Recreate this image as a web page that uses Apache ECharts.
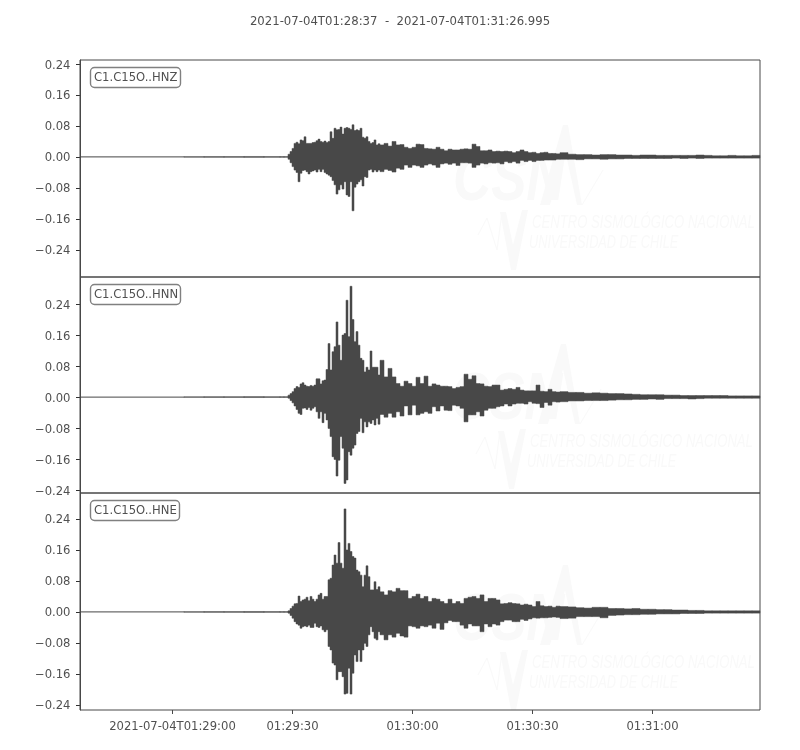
<!DOCTYPE html>
<html><head><meta charset="utf-8">
<style>html,body{margin:0;padding:0;background:#fff}#c{width:800px;height:750px}</style>
<script src="https://cdn.jsdelivr.net/npm/echarts@6/dist/echarts.min.js"></script>
</head><body><div id="c"></div>
<script>
const titleText = '2021-07-04T01:28:37  -  2021-07-04T01:31:26.995';
const channels = ['C1.C15O..HNZ','C1.C15O..HNN','C1.C15O..HNE'];
const xTickSeconds = [23,53,83,113,143];
const xTickLabels = ['2021-07-04T01:29:00','01:29:30','01:30:00','01:30:30','01:31:00'];
const yTicks = [-0.24,-0.16,-0.08,0,0.08,0.16,0.24];
const yRanges = [[-0.31,0.2503],[-0.2477,0.31],[-0.253,0.307]];

const times = [0,26,31,36,41,46,50,51,
52,52.5,53,53.5,54,54.5,55,55.5,56,56.5,57,57.5,58,58.5,59,59.5,60,60.5,61,61.5,62,62.5,63,63.5,64,64.5,65,65.5,66,66.5,67,67.5,68,68.5,69,69.5,70,70.5,71,71.5,72,72.5,73,73.5,74,74.5,
75,76,77,78,79,80,81,82,83,84,85,86,87,88,89,90,91,92,93,94,95,96,97,98,99,100,101,102,103,104,105,106,107,108,109,110,111,112,113,114,115,116,117,118,119,120,
122,124,126,128,130,132,134,136,138,140,142,144,146,148,150,152,154,156,158,160,162,164,166,168,170];

const hiZ = [.0004,.0008,.001,.001,.0012,.001,.001,.001,
.007,.014,.022,.035,.038,.034,.044,.042,.052,.035,.035,.035,.037,.038,.042,.046,.040,.038,.041,.037,.040,.065,.048,.074,.070,.071,.077,.059,.074,.076,.074,.071,.083,.068,.070,.068,.074,.051,.048,.052,.040,.035,.037,.044,.031,.034,
.031,.035,.028,.040,.031,.032,.025,.022,.025,.033,.032,.022,.021,.020,.025,.020,.016,.020,.018,.018,.020,.021,.020,.033,.027,.016,.016,.018,.014,.015,.014,.015,.014,.011,.014,.018,.014,.011,.012,.009,.011,.012,.009,.009,.008,.011,
.007,.006,.006,.005,.006,.006,.005,.005,.004,.005,.005,.004,.004,.004,.004,.004,.005,.004,.003,.003,.004,.003,.003,.004,.003];
const loZ = [-.0004,-.0008,-.001,-.001,-.0012,-.001,-.001,-.001,
-.006,-.015,-.025,-.034,-.040,-.064,-.042,-.035,-.034,-.038,-.044,-.038,-.036,-.034,-.039,-.032,-.038,-.032,-.040,-.044,-.047,-.051,-.061,-.072,-.096,-.085,-.072,-.083,-.064,-.098,-.102,-.064,-.139,-.078,-.070,-.064,-.059,-.075,-.051,-.053,-.034,-.032,-.039,-.034,-.038,-.034,
-.038,-.032,-.035,-.039,-.029,-.032,-.021,-.027,-.021,-.023,-.027,-.021,-.018,-.021,-.027,-.018,-.016,-.019,-.016,-.022,-.015,-.015,-.016,-.027,-.021,-.016,-.018,-.015,-.016,-.015,-.018,-.012,-.015,-.012,-.016,-.009,-.012,-.009,-.012,-.009,-.009,-.008,-.008,-.008,-.006,-.006,
-.006,-.007,-.005,-.005,-.006,-.005,-.005,-.004,-.004,-.004,-.004,-.004,-.004,-.003,-.004,-.003,-.004,-.003,-.003,-.003,-.003,-.003,-.003,-.003,-.003];

const hiN = [.0004,.0008,.001,.001,.0012,.001,.001,.001,
.005,.009,.014,.022,.027,.025,.034,.037,.031,.028,.027,.030,.028,.031,.047,.047,.034,.042,.044,.071,.138,.070,.117,.130,.194,.134,.095,.160,.164,.250,.156,.286,.200,.143,.169,.134,.100,.095,.065,.077,.070,.119,.077,.077,.077,.057,
.095,.052,.074,.052,.035,.028,.041,.035,.028,.051,.035,.054,.028,.034,.031,.028,.028,.027,.022,.025,.027,.059,.046,.055,.035,.034,.028,.027,.031,.031,.018,.020,.022,.020,.025,.018,.016,.016,.016,.031,.015,.014,.020,.014,.013,.014,
.012,.012,.010,.011,.010,.009,.009,.008,.007,.006,.006,.006,.005,.005,.004,.004,.004,.004,.004,.004,.003,.003,.003,.003,.003];
const loN = [-.0004,-.0008,-.001,-.001,-.0012,-.001,-.001,-.001,
-.003,-.009,-.015,-.023,-.032,-.042,-.045,-.029,-.028,-.032,-.027,-.034,-.029,-.025,-.038,-.055,-.038,-.066,-.042,-.059,-.081,-.102,-.154,-.161,-.204,-.163,-.102,-.132,-.223,-.214,-.141,-.150,-.132,-.124,-.094,-.089,-.055,-.092,-.064,-.077,-.064,-.068,-.059,-.072,-.055,-.070,
-.045,-.052,-.042,-.052,-.038,-.049,-.023,-.046,-.021,-.046,-.042,-.038,-.042,-.025,-.036,-.023,-.034,-.035,-.021,-.023,-.029,-.064,-.046,-.046,-.038,-.049,-.034,-.029,-.029,-.025,-.023,-.018,-.023,-.018,-.016,-.016,-.018,-.012,-.016,-.017,-.027,-.014,-.021,-.012,-.013,-.012,
-.010,-.010,-.009,-.009,-.009,-.008,-.007,-.007,-.006,-.006,-.005,-.006,-.004,-.004,-.004,-.005,-.004,-.003,-.003,-.003,-.003,-.003,-.003,-.003,-.003];

const hiE = [.0004,.0008,.001,.001,.0012,.001,.001,.001,
.003,.009,.015,.021,.022,.041,.027,.031,.033,.038,.029,.040,.033,.027,.033,.044,.048,.033,.040,.040,.083,.087,.121,.147,.126,.179,.126,.113,.266,.160,.177,.156,.143,.139,.108,.104,.095,.065,.095,.119,.091,.057,.057,.078,.058,.065,
.052,.044,.055,.052,.061,.055,.055,.035,.040,.046,.035,.040,.027,.035,.033,.027,.022,.033,.022,.027,.022,.035,.038,.040,.035,.044,.027,.035,.035,.031,.021,.022,.024,.022,.021,.018,.020,.018,.014,.027,.016,.014,.015,.012,.015,.014,
.013,.011,.010,.012,.012,.009,.009,.008,.009,.007,.007,.006,.006,.005,.005,.004,.004,.003,.003,.003,.003,.003,.003,.003,.003];
const loE = [-.0004,-.0008,-.001,-.001,-.0012,-.001,-.001,-.001,
-.003,-.009,-.016,-.025,-.031,-.034,-.042,-.038,-.036,-.038,-.034,-.040,-.040,-.029,-.038,-.040,-.036,-.046,-.051,-.046,-.089,-.098,-.132,-.137,-.175,-.154,-.154,-.167,-.212,-.210,-.145,-.212,-.158,-.111,-.128,-.098,-.128,-.098,-.081,-.089,-.059,-.038,-.051,-.068,-.072,-.051,
-.059,-.072,-.059,-.065,-.055,-.062,-.065,-.036,-.038,-.042,-.036,-.038,-.034,-.042,-.029,-.045,-.028,-.022,-.025,-.025,-.034,-.042,-.031,-.036,-.036,-.051,-.031,-.038,-.031,-.034,-.025,-.021,-.021,-.025,-.025,-.019,-.022,-.018,-.015,-.016,-.015,-.015,-.014,-.013,-.014,-.017,
-.016,-.012,-.012,-.012,-.015,-.009,-.008,-.007,-.007,-.006,-.006,-.005,-.005,-.005,-.004,-.004,-.004,-.003,-.003,-.003,-.003,-.003,-.003,-.003,-.003];

const envelopes = [[hiZ,loZ],[hiN,loN],[hiE,loE]];
const grids = [{left:80,width:680,top:60,height:217},{left:80,width:680,top:277,height:216},{left:80,width:680,top:493,height:217}];
const ink = '#484848', txt = '#505050';
const font = 'DejaVu Sans';

function rows(hi, lo){
  const out = [];
  for(let i=0;i<times.length-1;i++){
    out.push([times[i],times[i+1],hi[i],lo[i]]);
  }
  return out;
}
function renderSlice(params, api){
  const t0=api.value(0), t1=api.value(1), h=api.value(2), l=api.value(3);
  const pts = [api.coord([t0,h]),api.coord([t1,h]),api.coord([t1,l]),api.coord([t0,l])];
  return {type:'polygon',shape:{points:pts},style:{fill:ink,stroke:ink,lineWidth:0.5}};
}
function fmtY(v){ return (v<0?'\u2212':'')+Math.abs(v).toFixed(2); }

function watermark(dx, dy){
  const c = '#f9f9f9', z = 0;
  const poly = pts => ({type:'polygon',z,silent:true,shape:{points:pts.map(p=>[p[0]+dx,p[1]+dy])},style:{fill:c}});
  const line = pts => ({type:'polyline',z,silent:true,shape:{points:pts.map(p=>[p[0]+dx,p[1]+dy])},style:{stroke:c,lineWidth:1,fill:null}});
  const text = (s,x,y,size,weight,sx) => ({type:'text',z,silent:true,x:x+dx,y:y+dy,scaleX:sx,
     style:{text:s,fill:c,font:'italic '+weight+' '+size+'px "Liberation Sans"',textVerticalAlign:'middle'}});
  return [
    text('CSN',453,182,66,'bold',0.8),
    poly([[540,205],[563,125],[568,125],[582,205],[577,205],[565,150],[550,205]]),
    line([[582,205],[603,170]]),
    line([[478,235],[487,218],[497,250],[502,212]]),
    poly([[500,212],[511,270],[516,270],[528,210],[522,210],[513,245],[506,212]]),
    text('CENTRO SISMOL\u00d3GICO NACIONAL',532,223,19,'normal',0.69),
    text('UNIVERSIDAD DE CHILE',529,243,19,'normal',0.67)
  ];
}

const option = {
  animation:false,
  backgroundColor:'#fff',
  title:[
    {text:titleText,left:'center',top:16,padding:0,textStyle:{color:txt,fontFamily:font,fontSize:11.7,fontWeight:'normal'}},
    ...channels.map((c,i)=>({text:c,left:90,top:grids[i].top+7,padding:[4,3,4,4],
      backgroundColor:'#fff',borderColor:'#808080',borderWidth:1.4,borderRadius:4,
      textStyle:{color:txt,fontFamily:font,fontSize:11.6,fontWeight:'normal',lineHeight:13}}))
  ],
  grid:grids.map(g=>({...g,show:true,borderColor:ink,borderWidth:1,backgroundColor:'transparent',z:3})),
  xAxis:grids.map((g,i)=>({type:'value',gridIndex:i,min:0,max:170,position:'bottom',splitLine:{show:false},
    axisLine:{show:false,onZero:false},
    axisTick:{show:i===2,length:4,lineStyle:{color:ink},customValues:xTickSeconds},
    axisLabel:{show:i===2,color:txt,fontFamily:font,fontSize:11.6,margin:11,padding:[0,0,0,1],customValues:xTickSeconds,
      formatter:v=>xTickLabels[xTickSeconds.indexOf(v)]}})),
  yAxis:grids.map((g,i)=>({type:'value',gridIndex:i,min:yRanges[i][0],max:yRanges[i][1],position:'left',splitLine:{show:false},
    axisLine:{show:true,onZero:false,lineStyle:{color:ink,width:1}},
    axisTick:{show:true,length:4,lineStyle:{color:'#303030',width:1},customValues:yTicks},
    axisLabel:{color:txt,fontFamily:font,fontSize:11.6,margin:9.5,verticalAlign:'top',lineHeight:3,customValues:yTicks,formatter:fmtY}})),
  series:envelopes.map((e,i)=>({type:'custom',name:channels[i],xAxisIndex:i,yAxisIndex:i,
    data:rows(e[0],e[1]),renderItem:renderSlice,silent:true,z:2,
    encode:{x:[0,1],y:[2,3]}})),
  graphic:[...watermark(0,0),...watermark(-2,219),...watermark(0,440)]
};
const chart = echarts.init(document.getElementById('c'),null,{renderer:'canvas'});
chart.setOption(option);
</script></body></html>
